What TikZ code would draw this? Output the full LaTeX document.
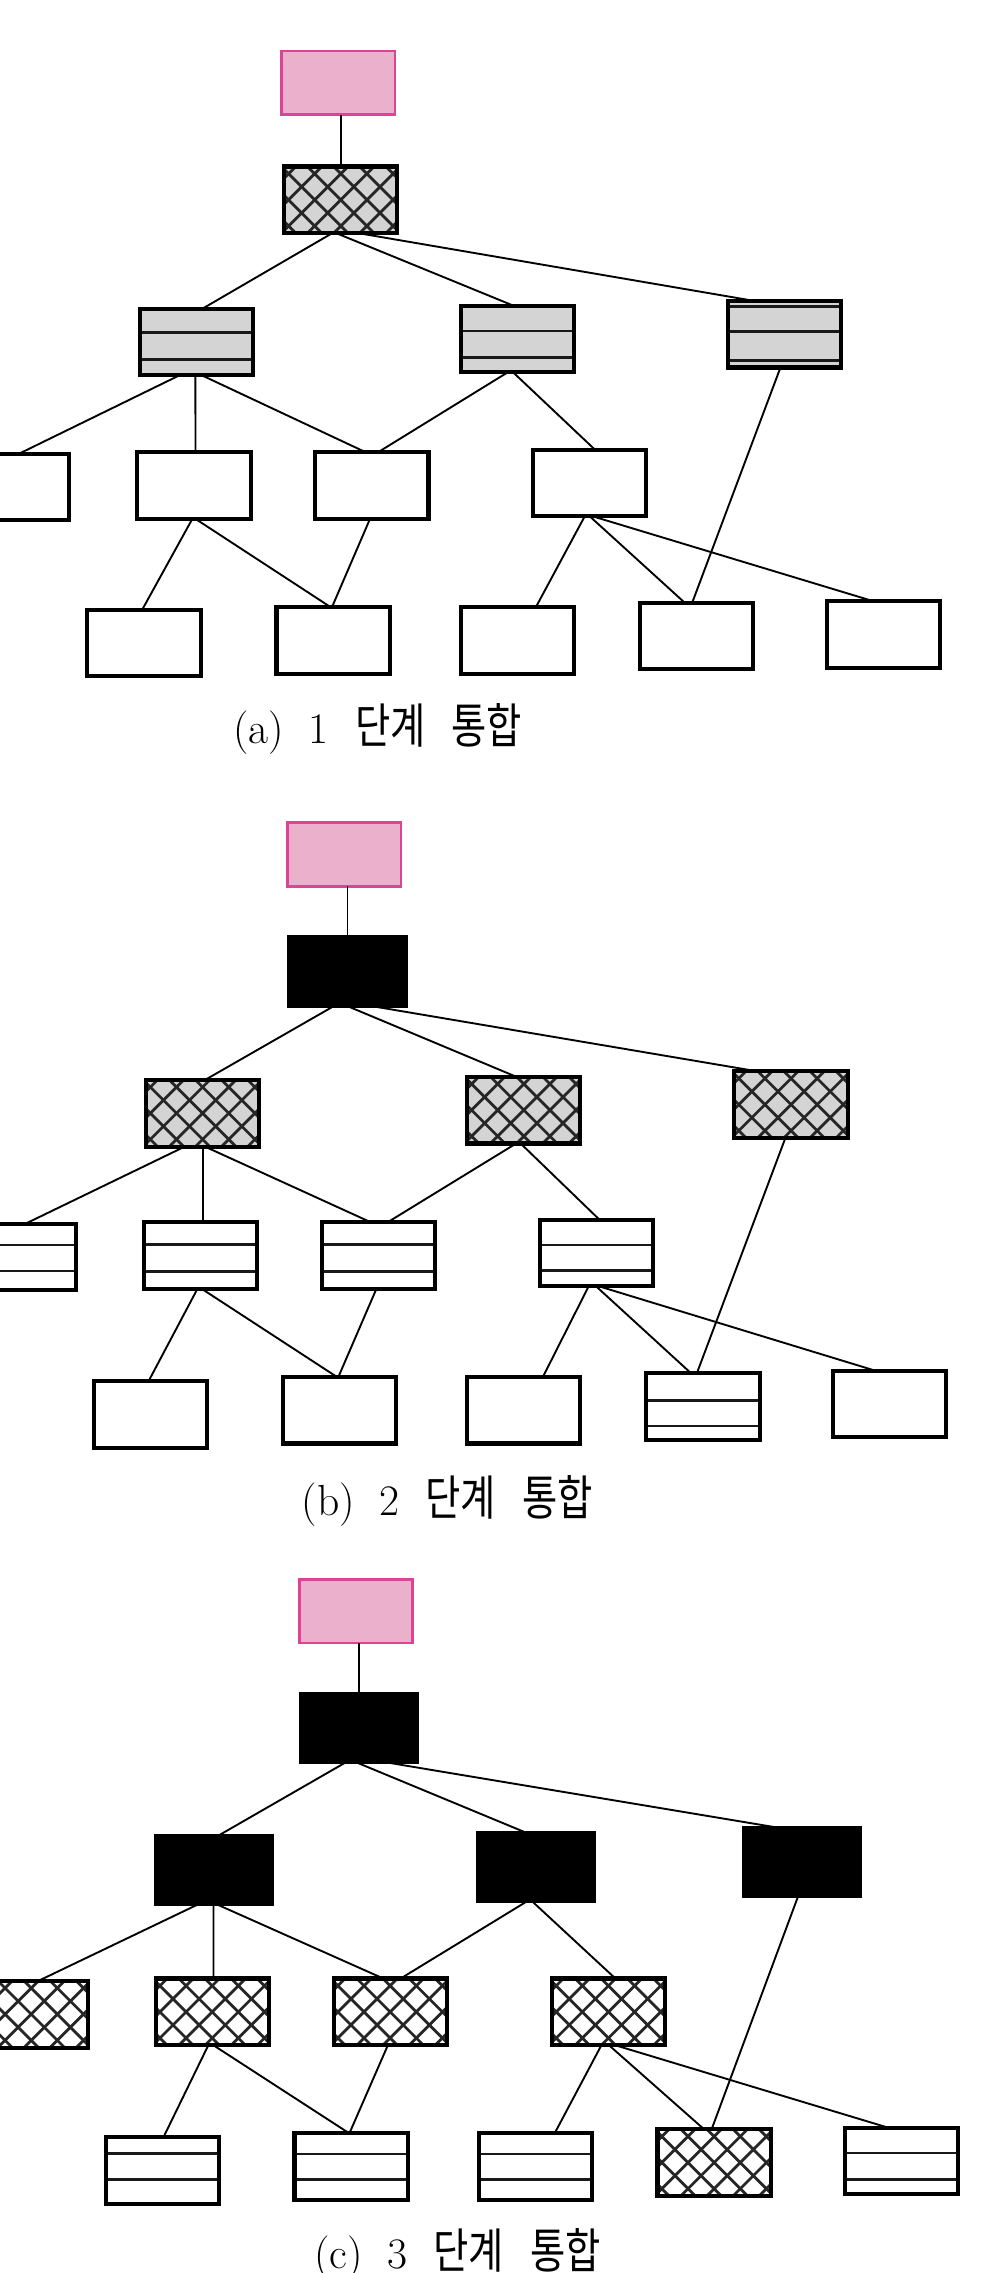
\documentclass[tikz,border=0pt]{standalone}
\usepackage{fontspec}
\usepackage{graphicx}
\newfontfamily\krfont{Noto Sans CJK KR}
\usetikzlibrary{calc}
\definecolor{pinkfill}{RGB}{234,176,204}
\definecolor{pinkline}{RGB}{222,68,150}
\definecolor{lgray}{RGB}{212,212,212}
\tikzset{
  conn/.style={line width=1.3pt, black},
  box/.style={rectangle, draw=black, line width=2.8pt, minimum width=78pt, minimum height=46pt, inner sep=0pt, outer sep=0pt},
  pinkbox/.style={rectangle, draw=pinkline, fill=pinkfill, line width=1.9pt, minimum width=78pt, minimum height=44pt, inner sep=0pt, outer sep=0pt},
  plainbox/.style={box, fill=white},
  blackbox/.style={box, fill=black, minimum width=80pt, minimum height=47pt},
  hatchline/.style={line width=1.9pt, black!85},
  stripeline/.style={line width=1.9pt, black!90},
  hatchbox/.style={box, fill=#1, path picture={
      \foreach \k in {-6,...,6}{
        \draw[hatchline] ([xshift=\k*18pt]path picture bounding box.center) ++(-45pt,-45pt) -- ++(90pt,90pt);
        \draw[hatchline] ([xshift=\k*18pt]path picture bounding box.center) ++(-45pt,45pt) -- ++(90pt,-90pt);
      }}},
  stripebox/.style 2 args={box, fill=#1, path picture={
      \foreach \f in {#2}{
        \draw[stripeline] ($(path picture bounding box.north west)!\f!(path picture bounding box.south west)$) -- ($(path picture bounding box.north east)!\f!(path picture bounding box.south east)$);
      }}},
  caption/.style={anchor=base west, inner sep=0pt, font=\fontsize{30}{36}\selectfont}
}
\newcommand\tlink[4]{\draw[conn] ($(#1.south)+(#2,0)$) -- ($(#3.north)+(#4,0)$);}
\newcommand\kw[1]{\scalebox{0.8}[1]{\fontsize{33}{36}\selectfont\krfont #1}}
\newcommand\capline[2]{(#1)\hspace{17pt}#2\hspace{18pt}\kw{단계}\hspace{18pt}\kw{통합}}
\begin{document}
\begin{tikzpicture}[x=1pt,y=-1pt]
\useasboundingbox (0,0) rectangle (689,1566);
% ---------------- panel (a)
\node[pinkbox] (a0) at (233.2,57.1) {};
\node[hatchbox=lgray] (a1) at (234.8,137.7) {};
\node[stripebox={lgray}{0.36,0.76}] (aA) at (135.6,235.6) {};
\node[stripebox={lgray}{0.38,0.78}] (aB) at (356.5,233.5) {};
\node[stripebox={lgray}{0.09,0.46,0.90}] (aC) at (540.7,230.2) {};
\node[plainbox] (aD) at (8.7,335.5) {};
\node[plainbox] (aE) at (133.7,334.5) {};
\node[plainbox] (aF) at (256.2,334.5) {};
\node[plainbox] (aG) at (406.2,332.8) {};
\node[plainbox] (aH) at (99.2,443) {};
\node[plainbox] (aI) at (229.5,441.1) {};
\node[plainbox] (aJ) at (356.5,441.1) {};
\node[plainbox] (aK) at (479.9,438.2) {};
\node[plainbox] (aL) at (608.7,436.9) {};
\draw[conn] (a1.north) -- (a1.north |- a0.south);
\tlink{a1}{-6}{aA}{4}
\tlink{a1}{-3}{aB}{-3}
\tlink{a1}{12.5}{aC}{-21.7}
\tlink{aA}{-12}{aD}{4.6}
\tlink{aA}{-1}{aE}{1}
\tlink{aA}{3.5}{aF}{-4.4}
\tlink{aB}{-6.7}{aF}{4.4}
\tlink{aB}{-3}{aG}{3.7}
\tlink{aC}{-3}{aK}{-3}
\tlink{aE}{-1.2}{aH}{-1.2}
\tlink{aE}{1}{aI}{-2}
\tlink{aF}{-1.3}{aI}{-0.7}
\tlink{aG}{-3.4}{aJ}{12.8}
\tlink{aG}{0.2}{aK}{-8.2}
\tlink{aG}{2.4}{aL}{-8}
\node[caption] (capa) at (160.6,512) {\capline{a}{1}};
% ---------------- panel (b)
\node[pinkbox] (b0) at (237.2,588.6) {};
\node[blackbox] (b1) at (239.4,669.3) {};
\node[hatchbox=lgray] (bA) at (139.6,767) {};
\node[hatchbox=lgray] (bB) at (360.9,764.8) {};
\node[hatchbox=lgray] (bC) at (545,761) {};
\node[stripebox={white}{0.32,0.71}] (bD) at (13.1,866) {};
\node[stripebox={white}{0.34,0.74}] (bE) at (138.3,865) {};
\node[stripebox={white}{0.34,0.74}] (bF) at (260.9,865) {};
\node[stripebox={white}{0.38,0.76}] (bG) at (411,863.3) {};
\node[plainbox] (bH) at (103.6,974.3) {};
\node[plainbox] (bI) at (233.7,971.5) {};
\node[plainbox] (bJ) at (360.9,971.5) {};
\node[stripebox={white}{0.41,0.79}] (bK) at (484.3,969.1) {};
\node[plainbox] (bL) at (612.9,967.3) {};
\draw[conn] (b1.north) -- (b1.north |- b0.south);
\tlink{b1}{-8.8}{bA}{1.7}
\tlink{b1}{-0.9}{bB}{-5.3}
\tlink{b1}{14.6}{bC}{-23.8}
\tlink{bA}{-12.4}{bD}{4.6}
\tlink{bA}{0}{bE}{1.3}
\tlink{bA}{1.7}{bF}{-5.6}
\tlink{bB}{-5.3}{bF}{6.3}
\tlink{bB}{-2.2}{bG}{2}
\tlink{bC}{-3.9}{bK}{-4.2}
\tlink{bE}{-2.3}{bH}{-1.1}
\tlink{bE}{0.8}{bI}{-1.8}
\tlink{bF}{-1.6}{bI}{-0.5}
\tlink{bG}{-5.5}{bJ}{13.2}
\tlink{bG}{-0.2}{bK}{-8.2}
\tlink{bG}{2}{bL}{-10}
\node[caption] (capb) at (207.6,1044) {\capline{b}{2}};
% ---------------- panel (c)
\node[pinkbox] (c0) at (245.4,1110) {};
\node[blackbox] (c1) at (247.6,1190.5) {};
\node[blackbox] (cA) at (147.5,1288.3) {};
\node[blackbox] (cB) at (369,1286.4) {};
\node[blackbox] (cC) at (552.6,1282.8) {};
\node[hatchbox=white] (cD) at (21.5,1387.7) {};
\node[hatchbox=white] (cE) at (146.2,1386.1) {};
\node[hatchbox=white] (cF) at (268.8,1386.1) {};
\node[hatchbox=white] (cG) at (419.2,1386.1) {};
\node[stripebox={white}{0.24,0.63}] (cH) at (112,1495.5) {};
\node[stripebox={white}{0.31,0.69}] (cI) at (241.9,1492.8) {};
\node[stripebox={white}{0.31,0.69}] (cJ) at (369,1492.8) {};
\node[hatchbox=white] (cK) at (492,1489.9) {};
\node[stripebox={white}{0.38,0.78}] (cL) at (620.9,1488.8) {};
\draw[conn] (c1.north) -- (c1.north |- c0.south);
\tlink{c1}{-9.1}{cA}{2.7}
\tlink{c1}{-2.5}{cB}{-5.9}
\tlink{c1}{17.4}{cC}{-15.9}
\tlink{cA}{-10.6}{cD}{5}
\tlink{cA}{-0.4}{cE}{0.9}
\tlink{cA}{1.4}{cF}{-4.7}
\tlink{cB}{-5.9}{cF}{7.2}
\tlink{cB}{-2.4}{cG}{4.8}
\tlink{cC}{-2.7}{cK}{-1.7}
\tlink{cE}{-2.7}{cH}{0.6}
\tlink{cE}{0.9}{cI}{-1.2}
\tlink{cF}{-1.6}{cI}{-1.2}
\tlink{cG}{-4.9}{cJ}{13.1}
\tlink{cG}{0.4}{cK}{-7}
\tlink{cG}{4.8}{cL}{-9.2}
\node[caption] (capc) at (216.4,1563) {\capline{c}{3}};
\end{tikzpicture}
\end{document}
